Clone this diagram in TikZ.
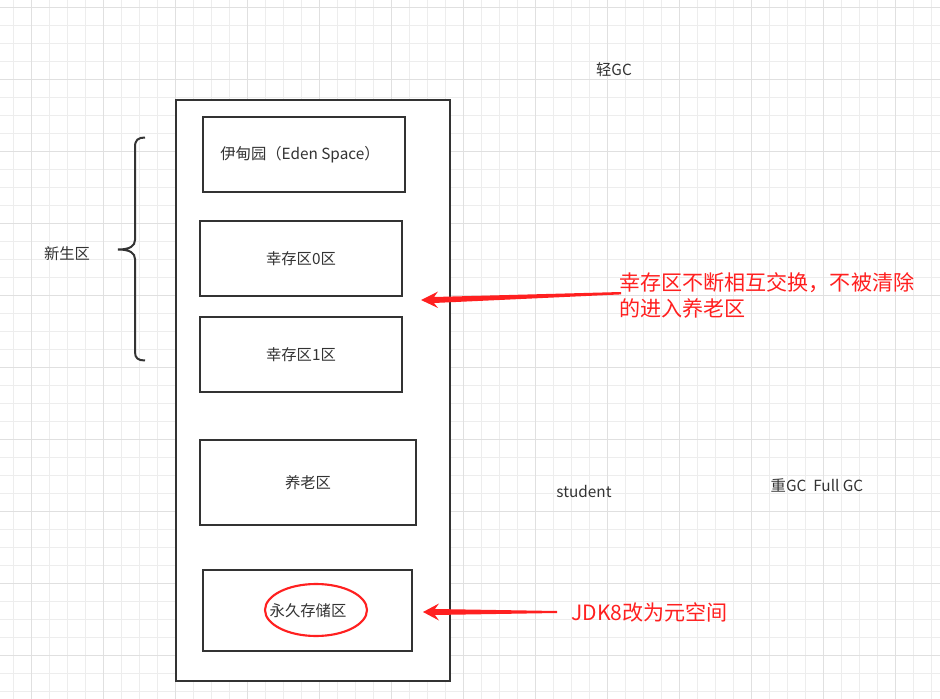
\documentclass[tikz,border=0pt]{standalone}
\usepackage{fontspec}
\setmainfont{Noto Sans CJK SC}
\usetikzlibrary{calc}
\definecolor{gridminor}{HTML}{EDEDED}
\definecolor{gridmajor}{HTML}{E0E0E0}
\definecolor{ink}{HTML}{333333}
\definecolor{redc}{HTML}{FF2020}
\tikzset{
  minorline/.style={gridminor, line width=0.75pt},
  majorline/.style={gridmajor, line width=0.75pt},
  membox/.style={draw=ink, line width=1.6pt, fill=white},
  lbl/.style={text=ink, font=\fontsize{11.5}{13}\selectfont, inner sep=0pt},
  redlbl/.style={text=redc, font=\fontsize{15.8}{19.5}\selectfont, inner sep=0pt, align=left},
}
\begin{document}
\begin{tikzpicture}[x=0.75pt,y=-0.75pt]
\useasboundingbox (0,0) rectangle (940,699);
\fill[white] (0,0) rectangle (940,699);
% grid
\foreach \i in {0,...,51} \draw[minorline] ({13.7+18*\i},0) -- ++(0,699);
\foreach \i in {0,...,38} \draw[minorline] (0,{7.3+18*\i}) -- ++(940,0);
\foreach \i in {0,...,12} \draw[majorline] ({31.7+72*\i},0) -- ++(0,699);
\foreach \i in {0,...,9} \draw[majorline] (0,{7.3+72*\i}) -- ++(940,0);

% outer heap rectangle
\draw[draw=ink, line width=1.9pt, fill=white] (176,100) rectangle (450,681);

% inner boxes
\draw[membox] (203,117) rectangle (405,192);
\node[lbl] (eden) at (300,155) {伊甸园（Eden Space）};
\draw[membox] (200,221) rectangle (402,296);
\node[lbl] (s0) at (301,259) {幸存区0区};
\draw[membox] (200,317) rectangle (402,392);
\node[lbl] (s1) at (301,355) {幸存区1区};
\draw[membox] (200,440) rectangle (416,525);
\node[lbl] (old) at (308,483) {养老区};
\draw[membox] (203,570) rectangle (412,651);
\node[lbl] (perm) at (308,611) {永久存储区};
\draw[redc, line width=1.6pt] (316,610) ellipse [x radius=51, y radius=26];

% brace
\draw[ink, line width=1.5pt] (145,137.5) .. controls (138,137.5) and (135,140) .. (135,147)
  -- (135,240) .. controls (135,246) and (130,249.5) .. (118,249.5)
  .. controls (130,249.5) and (135,253) .. (135,259)
  -- (135,352) .. controls (135,358) and (138,360.5) .. (145,360.5);
\node[lbl] (young) at (67,254) {新生区};

% free labels
\node[lbl] (light) at (614,70) {轻GC};
\node[lbl] (stud) at (584,491) {student};
\node[lbl] (full) at (817,485) {重GC\ \ Full GC};

% red notes
\node[redlbl, anchor=west] (note1) at (619,295.5) {幸存区不断相互交换，不被清除\\的进入养老区};
\node[redlbl, anchor=west] (note2) at (571,612) {JDK8改为元空间};

% tapered arrows
\coordinate (tip1) at (421,300);
\coordinate (tail1) at (621,293.2);
\fill[redc] (tip1) -- ++(17,-8.5) -- ++(-4,5.5) -- ($(tail1)+(0,-1.2)$) -- ($(tail1)+(0,1.2)$)
  -- ($(tip1)+(13,3)$) -- ($(tip1)+(17,8)$) -- cycle;
\coordinate (tip2) at (423,612);
\coordinate (tail2) at (557,612);
\fill[redc] (tip2) -- ++(16,-8.5) -- ++(-4,5.5) -- ($(tail2)+(0,-1)$) -- ($(tail2)+(0,1)$)
  -- ($(tip2)+(12,3)$) -- ($(tip2)+(16,8.5)$) -- cycle;
\end{tikzpicture}
\end{document}
